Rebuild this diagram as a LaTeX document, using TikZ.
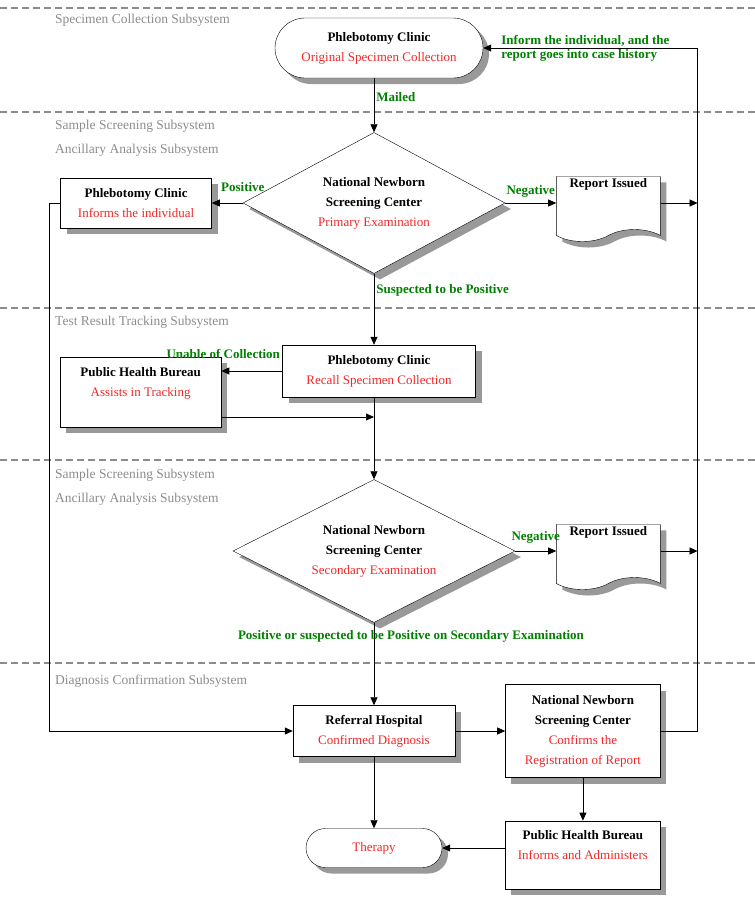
\documentclass[tikz,border=0pt]{standalone}
\usepackage{fontspec}
\setmainfont{Liberation Serif}
\usetikzlibrary{shapes,arrows.meta,positioning,calc,shadows}
\usepackage{xcolor}
\definecolor{dutyred}{RGB}{240,40,40}
\definecolor{flowgreen}{RGB}{0,128,0}
\definecolor{lanegray}{RGB}{140,140,140}
\newcommand{\duty}[1]{\textcolor{dutyred}{\mdseries #1}}

\begin{document}
\begin{tikzpicture}[
    x=1pt, y=1pt,
    node distance=40pt and 40pt,
    dropshade/.style={general shadow={fill=gray!80, shadow xshift=6pt, shadow yshift=-6pt}},
    process/.style={rectangle, draw, fill=white, dropshade, align=center, inner sep=2pt, font=\fontsize{13}{20}\selectfont\bfseries},
    terminal/.style={rounded rectangle, draw, fill=white, dropshade, align=center, inner sep=2pt, font=\fontsize{13}{20}\selectfont\bfseries},
    decision/.style={diamond, draw, fill=white, dropshade, align=center, inner sep=0pt, font=\fontsize{13}{20}\selectfont\bfseries},
    report/.style={tape, tape bend top=none, tape bend bottom=in and out, tape bend height=12pt, draw, fill=white, dropshade, align=center, inner sep=2pt, font=\fontsize{13}{20}\selectfont\bfseries},
    arrow/.style={-{Triangle[length=8pt,width=7pt]}, line width=0.7pt},
    note/.style={text=flowgreen, inner sep=2pt, font=\fontsize{13}{14}\selectfont\bfseries},
    lane/.style={draw=lanegray, dash pattern=on 7pt off 4pt, line width=1.2pt},
    subsystem/.style={text=lanegray, anchor=west, inner sep=0pt, font=\fontsize{13.5}{16}\selectfont}
]
\useasboundingbox (0,0) rectangle (755,-905);

% Swimlane separators
\foreach \y in {8,112,308,460,663}
    \draw[lane] (0,-\y) -- (755,-\y);

% Subsystem labels
\node[subsystem] (lspecimen) at (55,-20) {Specimen Collection Subsystem};
\node[subsystem] (lscreenA) at (55,-126) {Sample Screening Subsystem};
\node[subsystem] (lancilA) at (55,-150) {Ancillary Analysis Subsystem};
\node[subsystem] (ltracking) at (55,-322) {Test Result Tracking Subsystem};
\node[subsystem] (lscreenB) at (55,-475) {Sample Screening Subsystem};
\node[subsystem] (lancilB) at (55,-499) {Ancillary Analysis Subsystem};
\node[subsystem] (ldiagnosis) at (55,-681) {Diagnosis Confirmation Subsystem};

% Specimen collection
\node[terminal, minimum width=212pt, minimum height=60pt] (collect) at (379,-48)
    {Phlebotomy Clinic\\\duty{Original Specimen Collection}};
\node[note, align=left, right=16pt of collect.east] (feedback)
    {Inform the individual, and the\\report goes into case history};

% Primary screening
\node[decision, aspect=1.86, minimum width=262pt, minimum height=141pt] (primary) at (374,-203)
    {National Newborn\\Screening Center\\\duty{Primary Examination}};
\node[process, left=31pt of primary, minimum width=151pt, minimum height=50pt] (inform)
    {Phlebotomy Clinic\\\duty{Informs the individual}};
\node[report, right=51pt of primary, minimum width=104pt, minimum height=59pt] (report1)
    {Report Issued\\~\\~};

% Tracking
\node[process, minimum width=193pt, minimum height=52pt] (recall) at (379,-371)
    {Phlebotomy Clinic\\\duty{Recall Specimen Collection}};
\node[process, left=61pt of recall, yshift=-21pt, minimum width=161pt, minimum height=70pt] (bureau)
    {Public Health Bureau\\\duty{Assists in Tracking}\\~};

% Secondary screening
\node[decision, aspect=1.97, minimum width=282pt, minimum height=143pt] (secondary) at (374,-551)
    {National Newborn\\Screening Center\\\duty{Secondary Examination}};
\node[report, right=41pt of secondary, minimum width=104pt, minimum height=59pt] (report2)
    {Report Issued\\~\\~};

% Diagnosis confirmation
\node[process, minimum width=162pt, minimum height=51pt] (referral) at (374,-731)
    {Referral Hospital\\\duty{Confirmed Diagnosis}};
\node[process, right=50pt of referral, minimum width=155pt, minimum height=93pt] (confirm)
    {National Newborn\\Screening Center\\\duty{Confirms the}\\\duty{Registration of Report}};
\node[process, below=43pt of confirm, minimum width=155pt, minimum height=68pt] (notify)
    {Public Health Bureau\\\duty{Informs and Administers}\\~};
\node[terminal, minimum width=140pt, minimum height=39pt] (therapy) at (374,-848)
    {\duty{Therapy}};

% Turning points
\coordinate[right=37pt of confirm.east] (rail);
\coordinate[left=11pt of inform.west] (lturn);

% Arrows
\draw[arrow] (collect.south -| primary.north) -- node[note, right, pos=0.35] {Mailed} (primary.north);
\draw[arrow] (primary.west) -- node[note, above, pos=0, yshift=9pt] {Positive} (inform.east);
\draw[arrow] (primary.east) -- node[note, above, yshift=3pt] {Negative} (report1.west);
\draw[arrow] (report1.east) -- (report1.east -| rail);
\draw[arrow] (primary.south) -- node[note, right, pos=0.24] {Suspected to be Positive} (primary.south |- recall.north);

\draw[arrow] (recall.west) -- node[note, above left, pos=0, yshift=10pt] {Unable of Collection} (recall.west -| bureau.east);
\draw[arrow] ([yshift=-25pt]bureau.east) -- ([yshift=-25pt]bureau.east -| primary.south);
\draw[arrow] (recall.south -| secondary.north) -- (secondary.north);

\draw[arrow] (secondary.east) -- node[note, above, yshift=5pt] {Negative} (report2.west);
\draw[arrow] (report2.east) -- (report2.east -| rail);
\draw[arrow] (secondary.south) -- node[note, pos=0.17, xshift=37pt] {Positive or suspected to be Positive on Secondary Examination} (referral.north);

\draw[arrow] (inform.west) -- (lturn) |- (referral.west);
\draw[arrow] (referral.east) -- (confirm.west);
\draw[arrow] (confirm.east) -- (rail) |- (collect.east);
\draw[arrow] (confirm.south) -- (notify.north);
\draw[arrow] (referral.south) -- (therapy.north);
\draw[arrow] (notify.west |- therapy.east) -- (therapy.east);

\end{tikzpicture}
\end{document}
